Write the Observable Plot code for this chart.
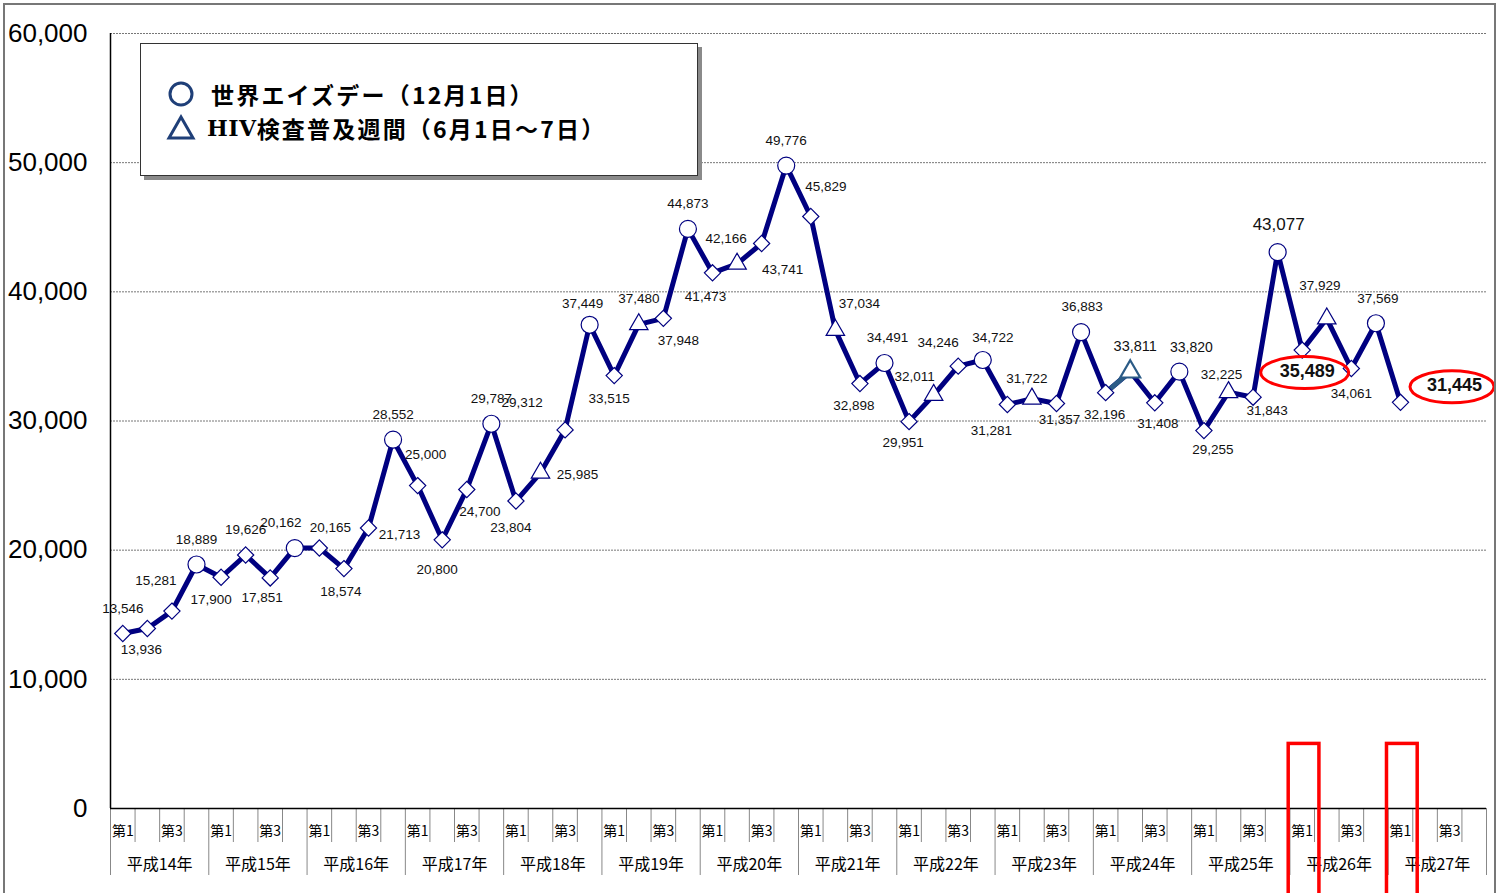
<!DOCTYPE html>
<html>
<head>
<meta charset="utf-8">
<script src="https://cdn.jsdelivr.net/npm/d3@7"></script>
<script src="https://cdn.jsdelivr.net/npm/@observablehq/plot@0.6"></script>
<style>
  html, body { margin: 0; padding: 0; background: #fff; }
  #wrap { position: relative; width: 1504px; height: 893px; overflow: hidden; }
  #frame { position: absolute; left: 3px; top: 3px; width: 1489px; height: 900px; border: 2px solid #777; pointer-events: none; }
  #legend { position: absolute; left: 140px; top: 43px; width: 556px; height: 131px; border: 1.5px solid #333; background: #fff; box-shadow: 4px 4px 0 #8a8a8a; font-family: "Noto Sans CJK JP", sans-serif; font-weight: bold; color: #000; }
  .row { position: absolute; display: flex; align-items: center; font-size: 23px; letter-spacing: 2.2px; white-space: nowrap; }
  .sym { position: absolute; }
</style>
</head>
<body>
<div id="wrap">
  <div id="chart"></div>
  <div id="legend">
    <svg class="sym" style="left:26px;top:36px" width="28" height="28"><circle cx="14" cy="14" r="11" fill="none" stroke="#1f3f78" stroke-width="3"/></svg>
    <div class="row" style="left:70px;top:32px;height:36px">世界エイズデー（12月1日）</div>
    <svg class="sym" style="left:25px;top:70px" width="30" height="28"><path d="M15 3 L27 24 L3 24 Z" fill="none" stroke="#1f3f78" stroke-width="3" stroke-linejoin="miter"/></svg>
    <div class="row" style="left:66px;top:66px;height:36px"><span style="font-family:'DejaVu Serif',serif;font-size:22px;letter-spacing:0.5px">HIV</span>検査普及週間（6月1日～7日）</div>
  </div>
  <div id="frame"></div>
</div>
<script>
// ---- data ----
const years = ["平成14年","平成15年","平成16年","平成17年","平成18年","平成19年","平成20年",
               "平成21年","平成22年","平成23年","平成24年","平成25年","平成26年","平成27年"];
const quarterLabels = ["第1", "", "第3", ""];
const counts = [
  13546, 13936, 15281, 18889,
  17900, 19626, 17851, 20162,
  20165, 18574, 21713, 28552,
  25000, 20800, 24700, 29787,
  23804, 25985, 29312, 37449,
  33515, 37480, 37948, 44873,
  41473, 42166, 43741, 49776,
  45829, 37034, 32898, 34491,
  29951, 32011, 34246, 34722,
  31281, 31722, 31357, 36883,
  32196, 33811, 31408, 33820,
  29255, 32225, 31843, 43077,
  35489, 37929, 34061, 37569,
  31445
];
const markerTypes = [
  "diamond","diamond","diamond","circle",
  "diamond","diamond","diamond","circle",
  "diamond","diamond","diamond","circle",
  "diamond","diamond","diamond","circle",
  "diamond","triangle","diamond","circle",
  "diamond","triangle","diamond","circle",
  "diamond","triangle","diamond","circle",
  "diamond","triangle","diamond","circle",
  "diamond","triangle","diamond","circle",
  "diamond","triangle","diamond","circle",
  "diamond","triangle","diamond","circle",
  "diamond","triangle","diamond","circle",
  "diamond","triangle","diamond","circle",
  "diamond"
];
const yTicks = [0, 10000, 20000, 30000, 40000, 50000, 60000];
const highlightedQuarters = [48, 52];   // 平成26年第1, 平成27年第1
const circledLabels = [48, 52];
const emphasized = {47: {size: 17, weight: "normal"}, 48: {size: 18, weight: "bold"}, 52: {size: 18, weight: "bold"}, 41: {size: 14.5, weight: "normal"}, 43: {size: 14, weight: "normal"}};
const specialTriangle = 41;

// label placement (pixel offsets from each point)
const labelOffsets = [
  [0,-25],[-6,21],[-16,-30],[0,-25],
  [-10,22],[0,-25],[-8,20],[-14,-25],
  [11,-20],[-3,23],[31,7],[0,-25],
  [8,-31],[-5,30],[13,22],[0,-25],
  [-5,27],[37,2],[-43,-27],[-7,-21],
  [-5,23],[0,-26],[15,22],[0,-25],
  [-7,24],[-11,-25],[21,26],[0,-25],
  [15,-30],[24,-26],[-6,22],[3,-25],
  [-6,21],[-19,-18],[-20,-23],[10,-22],
  [-16,26],[-5,-20],[3,16],[1,-25],
  [-1,22],[5,-25],[3,21],[12,-24],
  [9,19],[-7,-18],[14,13],[1,-28],
  [5,21],[-7,-33],[0,25],[2,-25],
  [54,-17]
];

// ---- build ----
const fmt = d3.format(",");
const data = counts.map((v, i) => ({i, x: i + 0.5, v, type: markerTypes[i]}));
const nQuarters = years.length * 4;
const boundaries = d3.range(nQuarters + 1);
const yearBounds = boundaries.filter(b => b % 4 === 0);
const innerBounds = boundaries.filter(b => b % 4 !== 0);
const labeledQuarterTicks = d3.range(nQuarters).filter(q => quarterLabels[q % 4] !== "").map(q => q + 0.5);
const yearTicks = years.map((y, k) => k * 4 + 2);

const navy = "#000080";
const steel = "#2b5b86";

const textMarks = data.map((d, i) => {
  const e = emphasized[i] || {size: 13.5, weight: "normal"};
  return Plot.text([d], {x: "x", y: "v", text: d => fmt(d.v), dx: labelOffsets[i][0], dy: labelOffsets[i][1],
    fontSize: e.size, fontWeight: e.weight, fill: "#111", fontFamily: "Liberation Sans, Arial, sans-serif"});
});

const plot = Plot.plot({
  width: 1504, height: 893,
  marginLeft: 110, marginRight: 18, marginTop: 33, marginBottom: 85,
  x: {type: "linear", domain: [0, nQuarters], label: null},
  y: {domain: [0, 60000], label: null},
  style: {background: "transparent", fontFamily: "Liberation Sans, Arial, sans-serif", overflow: "visible"},
  marks: [
    Plot.gridY(yTicks.filter(t => t > 0), {stroke: "#777", strokeOpacity: 1, strokeDasharray: "2,1"}),
    Plot.axisY(yTicks, {label: null, tickFormat: fmt, tickSize: 0, tickPadding: 23, fontSize: 26, fill: "#000", fontFamily: "Liberation Sans, Arial, sans-serif"}),
    Plot.axisX(innerBounds, {label: null, tickSize: 34, tickFormat: () => "", stroke: "#888"}),
    Plot.axisX(yearBounds, {label: null, tickSize: 67, tickFormat: () => "", stroke: "#888"}),
    Plot.axisX(labeledQuarterTicks, {label: null, tickSize: 0, tickPadding: 18, tickFormat: t => quarterLabels[Math.floor(t) % 4], fontSize: 14, fill: "#000", fontFamily: "Noto Sans CJK JP"}),
    Plot.axisX(yearTicks, {label: null, tickSize: 0, tickPadding: 50, tickFormat: t => years[Math.floor(t / 4)], fontSize: 16, fill: "#000", fontFamily: "Noto Sans CJK JP"}),
    Plot.ruleX([0], {stroke: "#000", strokeWidth: 1.5}),
    Plot.ruleY([0], {stroke: "#000", strokeWidth: 1.5}),
    Plot.rect(highlightedQuarters, {x1: d => d - 0.05, x2: d => d + 1.2, y1: -8000, y2: 5000, fill: "none", stroke: "#f00", strokeWidth: 3.5}),
    Plot.line(data, {x: "x", y: "v", stroke: navy, strokeWidth: 5, strokeLinejoin: "round"}),
    Plot.line(data.filter(d => d.i === specialTriangle - 1 || d.i === specialTriangle), {x: "x", y: "v", stroke: steel, strokeWidth: 5}),
    Plot.dot(data.filter(d => d.type === "diamond"), {x: "x", y: "v", symbol: "diamond2", r: 7.3, fill: "#fff", stroke: navy, strokeWidth: 1.2}),
    Plot.dot(data.filter(d => d.type === "circle"), {x: "x", y: "v", symbol: "circle", r: 8.5, fill: "#fff", stroke: navy, strokeWidth: 1.2}),
    Plot.dot(data.filter(d => d.type === "triangle" && d.i !== specialTriangle), {x: "x", y: "v", symbol: "triangle2", r: 8.8, fill: "#fff", stroke: navy, strokeWidth: 1.2}),
    Plot.dot(data.filter(d => d.i === specialTriangle), {x: "x", y: "v", symbol: "triangle2", r: 9.5, fill: "#fff", stroke: steel, strokeWidth: 2.2}),
    ...textMarks
  ]
});
document.getElementById("chart").appendChild(plot);

// red ellipses around highlighted labels
const sx = plot.scale("x"), sy = plot.scale("y");
const svg = d3.select(plot);
const ellipseSize = {48: [44, 16], 52: [42, 16]};
circledLabels.forEach(i => {
  const d = data[i];
  svg.append("ellipse")
    .attr("cx", sx.apply(d.x) + labelOffsets[i][0] - 2)
    .attr("cy", sy.apply(d.v) + labelOffsets[i][1] + 2)
    .attr("rx", ellipseSize[i][0]).attr("ry", ellipseSize[i][1])
    .attr("fill", "none").attr("stroke", "#f00").attr("stroke-width", 3);
});
</script>
</body>
</html>
